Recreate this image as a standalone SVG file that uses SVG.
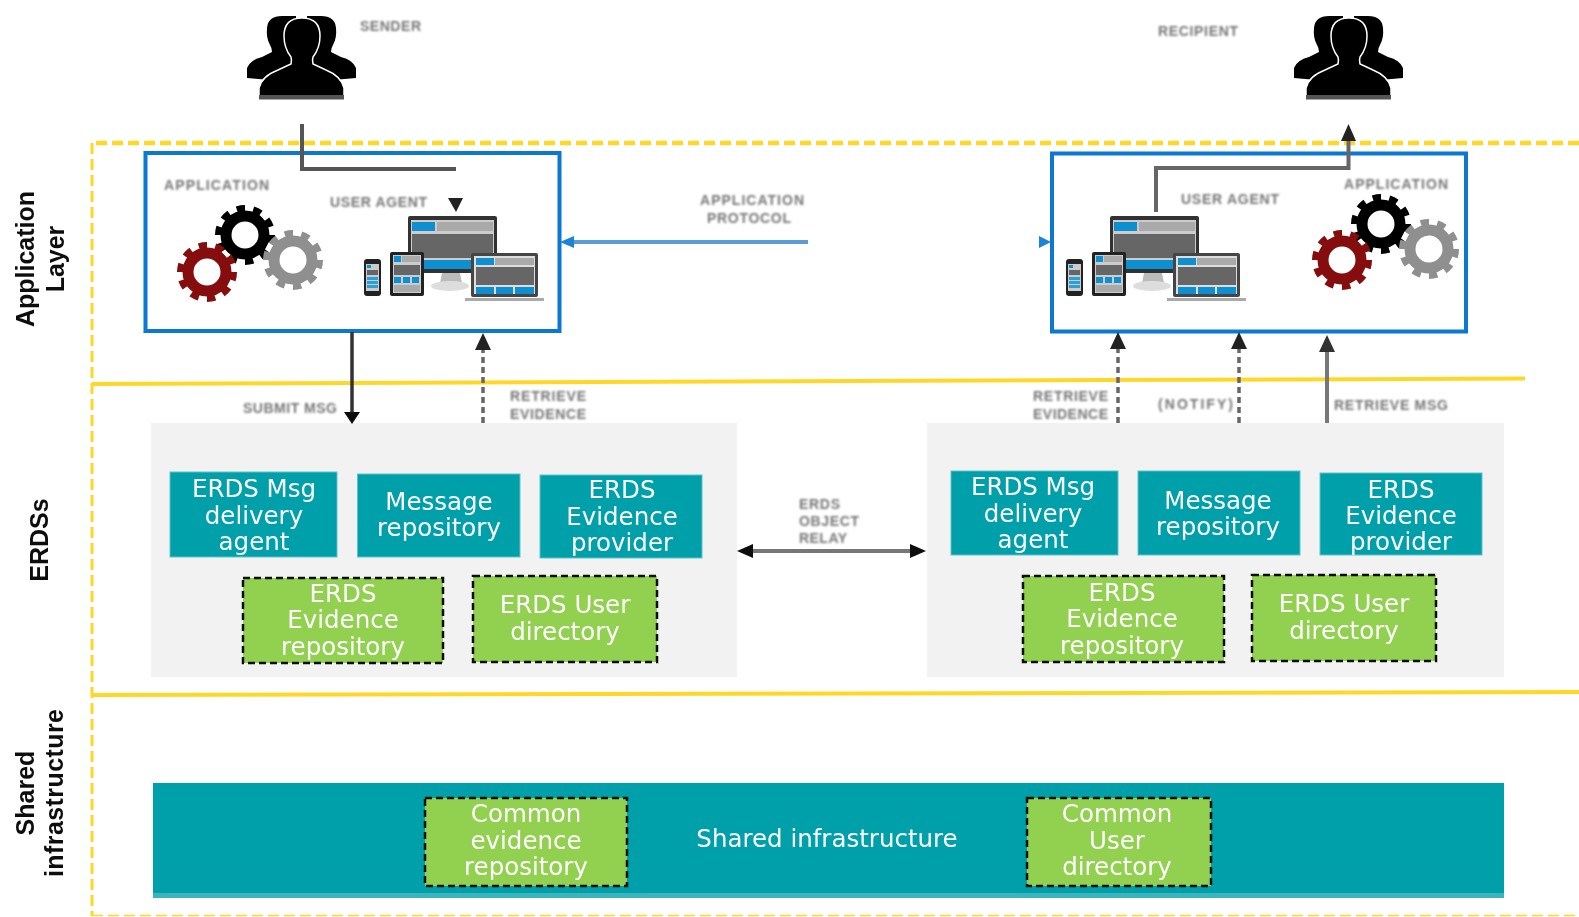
<svg xmlns="http://www.w3.org/2000/svg" xmlns:xlink="http://www.w3.org/1999/xlink" width="1579" height="917" viewBox="0 0 1579 917">
<style>
.t{font-family:"DejaVu Sans",Verdana,sans-serif;font-size:24.5px;fill:#fff;text-anchor:middle}
.s{font-family:"Liberation Sans",Arial,sans-serif;font-size:14px;font-weight:700;fill:#777;filter:url(#b2)}
.l{font-family:"Liberation Sans",Arial,sans-serif;font-size:25px;font-weight:700;fill:#111;text-anchor:middle}
.teal{fill:#00a0aa;stroke:#5cc3c9;stroke-width:1}
.green{fill:#92d14f;stroke:#111;stroke-width:2.5;stroke-dasharray:7 4}
.panel{fill:#f2f2f2}
.app{fill:#fff;stroke:#0a78d0;stroke-width:4}
.dash{stroke:#666;stroke-width:3.5;stroke-dasharray:6 4;fill:none}
.y{stroke:#ffd728;fill:none}
</style>
<defs>
<filter id="b1" x="-2%" y="-2%" width="104%" height="104%"><feGaussianBlur stdDeviation="0.45"/></filter>
<filter id="b2" x="-10%" y="-30%" width="120%" height="160%"><feGaussianBlur stdDeviation="0.8"/></filter>
<g id="gear" fill="none" stroke="currentColor">
<circle r="19" stroke-width="11"/>
<circle r="25.5" stroke-width="9" pathLength="20" stroke-dasharray="1 1"/>
</g>
<g id="person">
<path id="side" d="M247 78V68Q250 60 262 57L272 52Q272 48 270 45Q266 38 267 28Q268 16 282 16H296V80H270Z" fill="#000"/>
<path d="M356 78V68Q353 60 341 57L331 52Q331 48 333 45Q337 38 336 28Q335 16 321 16H307V80H333Z" fill="#000"/>
<path d="M259 99V88Q262 76 278 70L291 64Q292 60 291 57Q284 48 284 36Q284 18 302 18Q320 18 320 36Q320 48 313 57Q312 60 313 64L326 70Q341 76 344 88V99Z" fill="#000" stroke="#fff" stroke-width="1.5"/>
<rect x="259" y="95" width="85" height="4.500" fill="#555"/>
</g>
<g id="devices">
<rect x="408" y="216" width="89" height="57" rx="2" fill="#333"/>
<rect x="411" y="220" width="83" height="49" fill="#ccc"/>
<rect x="412" y="222" width="23" height="9" fill="#0a8fd0"/><rect x="437" y="222" width="56" height="9" fill="#aaa"/>
<rect x="412" y="234" width="81" height="24" fill="#666"/>
<rect x="412" y="260" width="80" height="9" fill="#0a8fd0"/>
<path d="M442 273H460L462 283H440Z" fill="#bbb"/><ellipse cx="450" cy="286" rx="19" ry="5" fill="#ddd"/>
<rect x="471" y="253" width="67" height="44" rx="2" fill="#444"/><rect x="474" y="256" width="61" height="38" fill="#ddd"/>
<rect x="476" y="258" width="18" height="7" fill="#0a8fd0"/><rect x="495" y="258" width="39" height="7" fill="#aaa"/>
<rect x="476" y="267" width="58" height="18" fill="#666"/>
<rect x="476" y="287" width="18" height="7" fill="#0a8fd0"/><rect x="496" y="287" width="17" height="7" fill="#0a8fd0"/><rect x="515" y="287" width="19" height="7" fill="#0a8fd0"/>
<rect x="465" y="298" width="79" height="3" fill="#aaa"/>
<rect x="390" y="252" width="34" height="44" rx="2" fill="#222"/><rect x="393" y="255" width="28" height="38" fill="#ccc"/>
<rect x="394" y="256" width="7" height="6" fill="#0a8fd0"/><rect x="402" y="256" width="18" height="6" fill="#aaa"/>
<rect x="394" y="265" width="26" height="10" fill="#666"/>
<rect x="394" y="277" width="7" height="6" fill="#0a8fd0"/><rect x="403" y="277" width="7" height="6" fill="#0a8fd0"/><rect x="412" y="277" width="7" height="6" fill="#0a8fd0"/>
<rect x="394" y="285" width="26" height="7" fill="#aaa"/>
<rect x="364" y="259" width="17" height="37" rx="3" fill="#222"/><rect x="366" y="264" width="13" height="27" fill="#ccc"/>
<rect x="367" y="265" width="4" height="3" fill="#0a8fd0"/><rect x="367" y="270" width="11" height="5" fill="#666"/>
<rect x="367" y="277" width="11" height="3" fill="#2a9fd8"/><rect x="367" y="281" width="11" height="3" fill="#2a9fd8"/><rect x="367" y="285" width="11" height="3" fill="#2a9fd8"/>
</g>
</defs>
<rect width="1579" height="917" fill="#fff"/>
<g filter="url(#b1)">
<g id="layers">
<path class="y" d="M1579 143H92" stroke-width="4.500" stroke-dasharray="11 5"/>
<path class="y" d="M92 143V916" stroke-width="3" stroke-dasharray="11 5"/>
<path class="y" d="M92 915.500H1579" stroke-width="1.500" stroke-dasharray="11 5"/>
<path class="y" d="M92 384L1525 378.500" stroke-width="4"/>
<path class="y" d="M92 695L1579 692" stroke-width="4"/>
<text class="l" transform="translate(34,259) rotate(-90)">Application</text>
<text class="l" transform="translate(64,259) rotate(-90)">Layer</text>
<text class="l" transform="translate(48,540) rotate(-90)" font-size="24">ERDSs</text>
<text class="l" transform="translate(34,793) rotate(-90)">Shared</text>
<text class="l" transform="translate(63,793) rotate(-90)" textLength="168">infrastructure</text>
</g>
<g id="sender"><use href="#person"/><text class="s" x="360" y="31" textLength="61">SENDER</text></g>
<g id="recipient"><use href="#person" x="1047"/><text class="s" x="1158" y="36" textLength="80">RECIPIENT</text></g>
<g id="sender-app">
<rect class="app" x="145.500" y="153" width="414" height="178"/>
<text class="s" x="164" y="190" textLength="105">APPLICATION</text>
<text class="s" x="330" y="207" textLength="97">USER AGENT</text>
<use href="#gear" x="245" y="235" color="#000"/>
<use href="#gear" x="293" y="260" color="#8f8f8f"/>
<use href="#gear" x="207" y="272" color="#860b0b"/>
<use href="#devices"/>
</g>
<g id="recipient-app">
<rect class="app" x="1052" y="153.500" width="414" height="178"/>
<text class="s" x="1181" y="204" textLength="98">USER AGENT</text>
<text class="s" x="1344" y="189" textLength="104">APPLICATION</text>
<use href="#gear" x="1381" y="224" color="#000"/>
<use href="#gear" x="1429" y="249" color="#8f8f8f"/>
<use href="#gear" x="1342" y="260" color="#860b0b"/>
<use href="#devices" x="702"/>
</g>
<g id="erds-left">
<rect class="panel" x="151" y="423" width="586" height="254"/>
<g id="l-msg-agent"><rect class="teal" x="170" y="472" width="167" height="85"/><text class="t"><tspan x="254" y="497">ERDS Msg</tspan><tspan x="254" y="523.500">delivery</tspan><tspan x="254" y="550">agent</tspan></text></g>
<g id="l-msg-repo"><rect class="teal" x="357.500" y="474" width="162.500" height="83"/><text class="t"><tspan x="439" y="510">Message</tspan><tspan x="439" y="536">repository</tspan></text></g>
<g id="l-ev-prov"><rect class="teal" x="540" y="475" width="162" height="83"/><text class="t"><tspan x="622" y="498">ERDS</tspan><tspan x="622" y="524.500">Evidence</tspan><tspan x="622" y="551">provider</tspan></text></g>
<g id="l-ev-repo"><rect class="green" x="243" y="578" width="200" height="85"/><text class="t"><tspan x="343" y="602">ERDS</tspan><tspan x="343" y="628">Evidence</tspan><tspan x="343" y="654.500">repository</tspan></text></g>
<g id="l-user-dir"><rect class="green" x="473" y="576" width="184" height="86"/><text class="t"><tspan x="565" y="613">ERDS User</tspan><tspan x="565" y="640">directory</tspan></text></g>
</g>
<g id="erds-right">
<rect class="panel" x="927" y="423" width="577" height="254"/>
<g id="r-msg-agent"><rect class="teal" x="951" y="471" width="167" height="84"/><text class="t"><tspan x="1033" y="495">ERDS Msg</tspan><tspan x="1033" y="521.500">delivery</tspan><tspan x="1033" y="548">agent</tspan></text></g>
<g id="r-msg-repo"><rect class="teal" x="1138" y="471" width="162" height="84"/><text class="t"><tspan x="1218" y="509">Message</tspan><tspan x="1218" y="535">repository</tspan></text></g>
<g id="r-ev-prov"><rect class="teal" x="1320" y="473" width="162" height="82"/><text class="t"><tspan x="1401" y="497.500">ERDS</tspan><tspan x="1401" y="523.500">Evidence</tspan><tspan x="1401" y="550">provider</tspan></text></g>
<g id="r-ev-repo"><rect class="green" x="1023" y="576" width="201" height="86"/><text class="t"><tspan x="1122" y="601">ERDS</tspan><tspan x="1122" y="627">Evidence</tspan><tspan x="1122" y="653.500">repository</tspan></text></g>
<g id="r-user-dir"><rect class="green" x="1252" y="575" width="184" height="86"/><text class="t"><tspan x="1344" y="612">ERDS User</tspan><tspan x="1344" y="639">directory</tspan></text></g>
</g>
<g id="shared">
<rect x="153" y="783" width="1351" height="115" fill="#00a0aa"/>
<rect x="153" y="893" width="1351" height="5" fill="#3ab4bb"/>
<text class="t" x="827" y="847">Shared infrastructure</text>
<g id="common-evidence"><rect class="green" x="425" y="798" width="202" height="88"/><text class="t"><tspan x="526" y="822">Common</tspan><tspan x="526" y="849">evidence</tspan><tspan x="526" y="875">repository</tspan></text></g>
<g id="common-user"><rect class="green" x="1027" y="798" width="184" height="88"/><text class="t"><tspan x="1117" y="822">Common</tspan><tspan x="1117" y="849">User</tspan><tspan x="1117" y="875">directory</tspan></text></g>
</g>
<g id="connectors" fill="none">
<path d="M302 124V169H456" stroke="#555" stroke-width="4"/>
<path d="M448 198H463L456 212Z" fill="#222"/>
<path d="M1156 212V168H1348.500V135" stroke="#666" stroke-width="4"/>
<path d="M1348.500 124L1356 141H1341Z" fill="#222"/>
<path d="M808 242H570" stroke="#5b9bd5" stroke-width="4"/>
<path d="M560 242L574 236V248Z" fill="#1f84d6"/>
<path d="M1051 242L1039 236V248Z" fill="#1f84d6"/>
<path d="M352 332V412" stroke="#333" stroke-width="3.500"/>
<path d="M344 412H360L352 424Z" fill="#111"/>
<path class="dash" d="M483 423V348"/>
<path d="M483 333L491 350H475Z" fill="#222"/>
<path class="dash" d="M1118 423V348"/>
<path d="M1118 332L1126 349H1110Z" fill="#222"/>
<path class="dash" d="M1239 423V348"/>
<path d="M1239 332L1247 349H1231Z" fill="#222"/>
<path d="M1327 423V350" stroke="#777" stroke-width="4"/>
<path d="M1327 335L1335 352H1319Z" fill="#333"/>
<path d="M750 551H912" stroke="#777" stroke-width="4"/>
<path d="M737 551L753 544V558Z" fill="#111"/>
<path d="M926 551L910 544V558Z" fill="#111"/>
</g>
<g id="connector-labels">
<text class="s" x="700" y="204.500" textLength="104">APPLICATION</text>
<text class="s" x="707" y="222.500" textLength="84">PROTOCOL</text>
<text class="s" x="243" y="413" textLength="94">SUBMIT MSG</text>
<text class="s" x="510" y="401" textLength="76">RETRIEVE</text>
<text class="s" x="510" y="419" textLength="76">EVIDENCE</text>
<text class="s" x="1033" y="401" textLength="75">RETRIEVE</text>
<text class="s" x="1033" y="419" textLength="75">EVIDENCE</text>
<text class="s" x="1158" y="409" textLength="75">(NOTIFY)</text>
<text class="s" x="1334" y="410" textLength="114">RETRIEVE MSG</text>
<text class="s" x="799" y="509" textLength="41">ERDS</text>
<text class="s" x="799" y="526" textLength="60">OBJECT</text>
<text class="s" x="799" y="543" textLength="48">RELAY</text>
</g>
</g>
</svg>
